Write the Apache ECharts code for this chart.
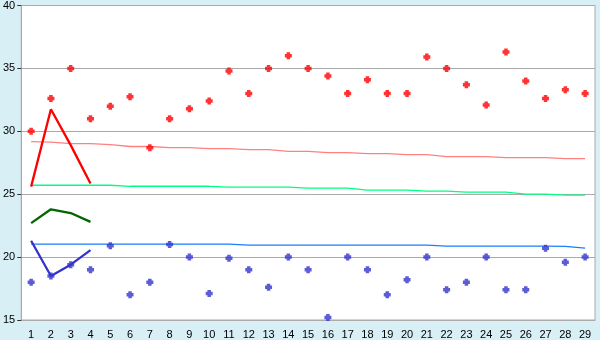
<!DOCTYPE html>
<html>
<head>
<meta charset="utf-8">
<script src="https://cdn.jsdelivr.net/npm/echarts@6/dist/echarts.min.js"></script>
<style>
html,body{margin:0;padding:0;background:#d8eff6;}
#c{width:600px;height:340px;}
</style>
</head>
<body>
<div id="c"></div>
<script>
var categories = ['1','2','3','4','5','6','7','8','9','10','11','12','13','14','15','16','17','18','19','20','21','22','23','24','25','26','27','28','29'];
var yTicks = [15, 20, 25, 30, 35, 40];

var redPoints = [30.0, 32.6, 35.0, 31.0, 32.0, 32.75, 28.7, 31.0, 31.8, 32.4, 34.8, 33.0, 35.0, 36.0, 35.0, 34.4, 33.0, 34.1, 33.0, 33.0, 35.9, 35.0, 33.7, 32.1, 36.3, 34.0, 32.6, 33.3, 33.0];
var bluePoints = [18.0, 18.5, 19.4, 19.0, 20.9, 17.0, 18.0, 21.0, 20.0, 17.1, 19.9, 19.0, 17.6, 20.0, 19.0, 15.2, 20.0, 19.0, 17.0, 18.2, 20.0, 17.4, 18.0, 20.0, 17.4, 17.4, 20.7, 19.6, 20.0];

var redLine = [25.6, 31.75, 28.9, 25.85];
var greenLine = [22.7, 23.8, 23.5, 22.8];
var blueLine = [21.3, 18.5, 19.4, 20.55];

var pinkTrend = [29.18, 29.14, 29.02, 29.02, 28.94, 28.79, 28.79, 28.71, 28.71, 28.63, 28.63, 28.55, 28.55, 28.40, 28.40, 28.31, 28.31, 28.23, 28.23, 28.15, 28.15, 27.99, 27.99, 27.99, 27.91, 27.91, 27.91, 27.83, 27.83];
var greenTrend = [25.71, 25.71, 25.71, 25.71, 25.71, 25.63, 25.63, 25.63, 25.63, 25.63, 25.56, 25.56, 25.56, 25.56, 25.48, 25.48, 25.48, 25.32, 25.32, 25.32, 25.24, 25.24, 25.16, 25.16, 25.16, 25.0, 25.0, 24.92, 24.92];
var blueTrend = [21.03, 21.03, 21.03, 21.03, 21.03, 21.03, 21.03, 21.03, 21.03, 21.03, 21.03, 20.95, 20.95, 20.95, 20.95, 20.95, 20.95, 20.95, 20.95, 20.95, 20.95, 20.87, 20.87, 20.87, 20.87, 20.87, 20.87, 20.85, 20.71];

var marker = 'path://M1,0H3V1H4V3H3V4H1V3H0V1H1Z';

function trend(data, color) {
  return {type: 'line', data: data, symbol: 'none', silent: true,
    lineStyle: {color: color, width: 1.3}, z: 2};
}
function poly(data, color) {
  return {type: 'line', data: data, symbol: 'none', silent: true,
    lineStyle: {color: color, width: 2.3}, z: 3};
}
function pts(data, color) {
  return {type: 'scatter', data: data, symbol: marker, symbolSize: 7,
    itemStyle: {color: color}, z: 4};
}

var chart = echarts.init(document.getElementById('c'), null, {renderer: 'canvas'});
chart.setOption({
  animation: false,
  backgroundColor: '#d8eff6',
  textStyle: {fontFamily: 'Liberation Sans'},
  grid: {left: 20, right: 5, top: 5, bottom: 20, show: true, backgroundColor: '#ffffff', borderColor: '#aaaaaa', borderWidth: 1},
  xAxis: {
    type: 'category', data: categories, boundaryGap: true,
    axisLine: {lineStyle: {color: '#aaaaaa'}},
    axisTick: {alignWithLabel: true, interval: 0, length: 5, lineStyle: {color: '#333333'}},
    axisLabel: {interval: 0, color: '#000000', fontSize: 11, margin: 9, fontFamily: 'Liberation Sans'},
    splitLine: {show: false}
  },
  yAxis: {
    type: 'value', min: yTicks[0], max: yTicks[yTicks.length - 1], interval: 5,
    axisLine: {show: true, lineStyle: {color: '#aaaaaa'}},
    axisTick: {show: true, length: 4, lineStyle: {color: '#333333'}},
    axisLabel: {color: '#000000', fontSize: 11, margin: 6, fontFamily: 'Liberation Sans'},
    splitLine: {show: true, lineStyle: {color: '#aaaaaa', width: 1}}
  },
  series: [
    trend(pinkTrend, '#ff8080'),
    trend(greenTrend, '#00ff80'),
    trend(blueTrend, '#1a7fff'),
    poly(redLine, '#ff0000'),
    poly(greenLine, '#006600'),
    poly(blueLine, '#3333cc'),
    pts(redPoints, '#ff0000'),
    pts(bluePoints, '#3333cc')
  ]
});
</script>
</body>
</html>
